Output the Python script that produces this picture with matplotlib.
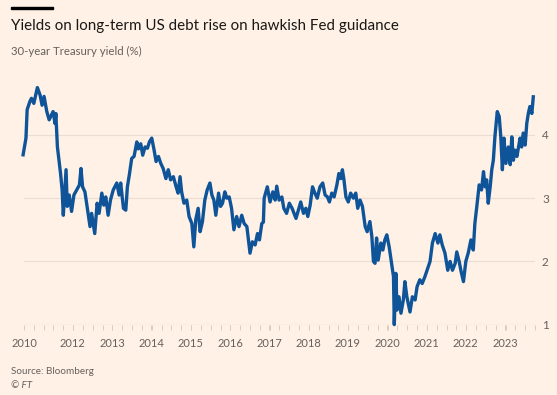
import matplotlib
matplotlib.use("Agg")
import matplotlib.pyplot as plt
from matplotlib.patches import Rectangle

# ---------------- data ----------------
years = [
    2010.73, 2010.81, 2010.84, 2010.91, 2010.95, 2011.01, 2011.10, 2011.17, 2011.22, 2011.27,
    2011.34, 2011.40, 2011.46, 2011.50, 2011.55, 2011.57, 2011.61, 2011.66, 2011.69, 2011.73,
    2011.76, 2011.80, 2011.83, 2011.86, 2011.91, 2011.97, 2012.03, 2012.10, 2012.17, 2012.21,
    2012.25, 2012.31, 2012.38, 2012.44, 2012.48, 2012.56, 2012.62, 2012.67, 2012.74, 2012.79,
    2012.84, 2012.90, 2012.96, 2013.03, 2013.12, 2013.18, 2013.22, 2013.29, 2013.35, 2013.39,
    2013.44, 2013.50, 2013.56, 2013.63, 2013.67, 2013.73, 2013.78, 2013.84, 2013.90, 2013.95,
    2014.01, 2014.07, 2014.12, 2014.18, 2014.24, 2014.30, 2014.37, 2014.43, 2014.49, 2014.56,
    2014.63, 2014.68, 2014.73, 2014.77, 2014.83, 2014.90, 2014.96, 2015.03, 2015.08, 2015.13,
    2015.19, 2015.24, 2015.30, 2015.36, 2015.42, 2015.49, 2015.54, 2015.59, 2015.64, 2015.71,
    2015.76, 2015.81, 2015.87, 2015.92, 2015.98, 2016.04, 2016.10, 2016.17, 2016.23, 2016.30,
    2016.36, 2016.43, 2016.51, 2016.57, 2016.64, 2016.70, 2016.75, 2016.81, 2016.85, 2016.87,
    2016.95, 2017.02, 2017.09, 2017.15, 2017.19, 2017.25, 2017.32, 2017.37, 2017.44, 2017.51,
    2017.58, 2017.63, 2017.68, 2017.74, 2017.80, 2017.87, 2017.93, 2017.98, 2018.04, 2018.10,
    2018.16, 2018.22, 2018.29, 2018.36, 2018.42, 2018.48, 2018.53, 2018.59, 2018.65, 2018.72,
    2018.77, 2018.82, 2018.86, 2018.90, 2018.95, 2019.01, 2019.07, 2019.14, 2019.20, 2019.25,
    2019.31, 2019.37, 2019.44, 2019.49, 2019.56, 2019.61, 2019.65, 2019.69, 2019.73, 2019.77,
    2019.84, 2019.89, 2019.94, 2019.99, 2020.05, 2020.10, 2020.16, 2020.18, 2020.22, 2020.25,
    2020.30, 2020.35, 2020.41, 2020.45, 2020.50, 2020.58, 2020.64, 2020.71, 2020.76, 2020.83,
    2020.89, 2020.96, 2021.03, 2021.09, 2021.15, 2021.22, 2021.29, 2021.34, 2021.40, 2021.47,
    2021.54, 2021.60, 2021.66, 2021.73, 2021.77, 2021.83, 2021.88, 2021.94, 2022.00, 2022.06,
    2022.13, 2022.19, 2022.23, 2022.28, 2022.34, 2022.40, 2022.45, 2022.49, 2022.53, 2022.57,
    2022.62, 2022.66, 2022.70, 2022.74, 2022.80, 2022.85, 2022.89, 2022.93, 2022.97, 2023.02,
    2023.08, 2023.13, 2023.17, 2023.21, 2023.25, 2023.30, 2023.34, 2023.38, 2023.42, 2023.46,
    2023.51, 2023.55, 2023.59, 2023.63, 2023.68, 2023.72,
]
yields = [
    3.66, 3.95, 4.40, 4.53, 4.58, 4.50, 4.75, 4.63, 4.47, 4.61,
    4.37, 4.24, 4.32, 4.37, 4.18, 4.34, 3.81, 3.55, 3.39, 3.13,
    2.73, 3.13, 3.45, 2.87, 3.05, 2.79, 3.05, 3.13, 3.21, 3.47,
    3.18, 3.10, 2.81, 2.55, 2.76, 2.44, 2.92, 2.76, 3.08, 2.89,
    3.02, 2.73, 2.97, 3.13, 3.24, 3.05, 3.24, 2.84, 2.81, 3.18,
    3.37, 3.63, 3.66, 3.89, 3.78, 3.86, 3.68, 3.81, 3.79, 3.89,
    3.95, 3.76, 3.58, 3.66, 3.55, 3.47, 3.31, 3.45, 3.29, 3.34,
    3.18, 3.08, 3.34, 3.10, 2.92, 2.97, 2.71, 2.60, 2.23, 2.66,
    2.84, 2.47, 2.63, 2.97, 3.13, 3.24, 3.05, 2.97, 2.73, 3.08,
    2.87, 2.92, 3.10, 3.00, 3.02, 2.84, 2.50, 2.71, 2.55, 2.73,
    2.60, 2.55, 2.13, 2.31, 2.26, 2.44, 2.34, 2.60, 2.62, 3.00,
    3.18, 2.94, 3.10, 2.97, 3.19, 2.97, 3.02, 2.84, 2.76, 2.92,
    2.84, 2.76, 2.68, 2.81, 2.94, 2.76, 2.84, 2.71, 2.89, 3.18,
    3.08, 3.00, 3.18, 3.24, 3.05, 3.02, 2.94, 3.08, 3.02, 3.21,
    3.39, 3.31, 3.45, 3.29, 3.02, 2.94, 3.08, 3.00, 3.08, 2.84,
    2.97, 2.87, 2.55, 2.47, 2.63, 2.39, 2.00, 1.97, 2.37, 2.02,
    2.29, 2.18, 2.34, 2.42, 2.23, 2.02, 1.76, 1.00, 1.81, 1.23,
    1.44, 1.18, 1.39, 1.68, 1.44, 1.20, 1.44, 1.39, 1.60, 1.71,
    1.65, 1.76, 1.89, 2.00, 2.29, 2.44, 2.29, 2.42, 2.26, 2.13,
    1.86, 2.00, 1.86, 1.97, 2.15, 2.00, 1.84, 1.68, 2.00, 2.13,
    2.34, 2.18, 2.60, 2.87, 3.21, 3.13, 3.42, 3.18, 3.29, 2.92,
    3.18, 3.45, 3.60, 3.97, 4.37, 4.29, 3.97, 3.45, 3.95, 3.55,
    3.81, 3.53, 3.97, 3.60, 3.76, 3.66, 3.81, 3.95, 3.81, 4.03,
    3.84, 4.18, 4.34, 4.45, 4.34, 4.63,
]
x_tick_years = [2010.76, 2012, 2013, 2014, 2015, 2016, 2017, 2018, 2019, 2020, 2021, 2022, 2023]
x_tick_labels = ["2010", "2012", "2013", "2014", "2015", "2016", "2017", "2018", "2019",
                 "2020", "2021", "2022", "2023"]
y_ticks = [1, 2, 3, 4]
y_tick_labels = ["1", "2", "3", "4"]

title = "Yields on long-term US debt rise on hawkish Fed guidance"
subtitle = "30-year Treasury yield (%)"
source = "Source: Bloomberg"
credit = "© FT"

# ---------------- styling ----------------
BG = "#FFF1E5"
LINE = "#0F5499"
TEXT = "#1A1817"
MUTED = "#66605C"
GRID = "#EBDDD2"
AXIS = "#D9CCC1"
FONT = ["Lato", "DejaVu Sans"]
plt.rcParams["font.family"] = FONT

W, H = 557, 395
fig = plt.figure(figsize=(W / 100, H / 100), dpi=100, facecolor=BG)


def fx(x):
    return x / W


def fy(y):
    return 1 - y / H


ax = fig.add_axes([fx(24), fy(324.6), (535 - 24) / W, (324.6 - 84.4) / H])
ax.set_facecolor(BG)
ax.plot(years, yields, color=LINE, lw=2.4, solid_joinstyle="round",
        solid_capstyle="butt", clip_on=False, zorder=3)
ax.set_xlim(2010.76, 2023.76)
ax.set_ylim(1, 4.8)
for s in ax.spines.values():
    s.set_visible(False)

ax.set_yticks(y_ticks)
ax.set_yticklabels(y_tick_labels)
ax.yaxis.tick_right()
ax.tick_params(axis="y", length=0, pad=5, labelsize=8.5, labelcolor=MUTED)
ax.grid(axis="y", color=GRID, lw=0.8, zorder=0)
ax.axhline(1, color=AXIS, lw=0.8, zorder=1)

quarters = [2010.76 + 0.25 * i for i in range(53)]
ax.set_xticks(quarters, minor=True)
ax.set_xticks(x_tick_years)
ax.set_xticklabels(x_tick_labels)
ax.tick_params(axis="x", which="both", length=3.5, width=0.7, color=AXIS,
               direction="out", pad=6, labelsize=8, labelcolor=MUTED)

# header bar
fig.patches.append(Rectangle((fx(11), fy(9.3)), (53 - 11) / W, 2.6 / H,
                             transform=fig.transFigure, color="#000000"))

t_title = fig.text(fx(11), fy(26), title, fontsize=12, color=TEXT, ha="left", va="center")
t_sub = fig.text(fx(11), fy(51), subtitle, fontsize=8.5, color=MUTED, ha="left", va="center")
t_src = fig.text(fx(11), fy(371), source, fontsize=8, color=MUTED, ha="left", va="center")
t_ft = fig.text(fx(11), fy(386), credit, fontsize=8, color=MUTED, ha="left", va="center",
                style="italic")


def fit(t, target):
    fig.canvas.draw()
    r = fig.canvas.get_renderer()
    w = t.get_window_extent(r).width
    t.set_fontsize(t.get_fontsize() * target / w)


fit(t_title, 386)
fit(t_sub, 130)
fit(t_src, 83)
t_ft.set_fontsize(t_src.get_fontsize())

fig.savefig("out.png", dpi=100, facecolor=BG)
